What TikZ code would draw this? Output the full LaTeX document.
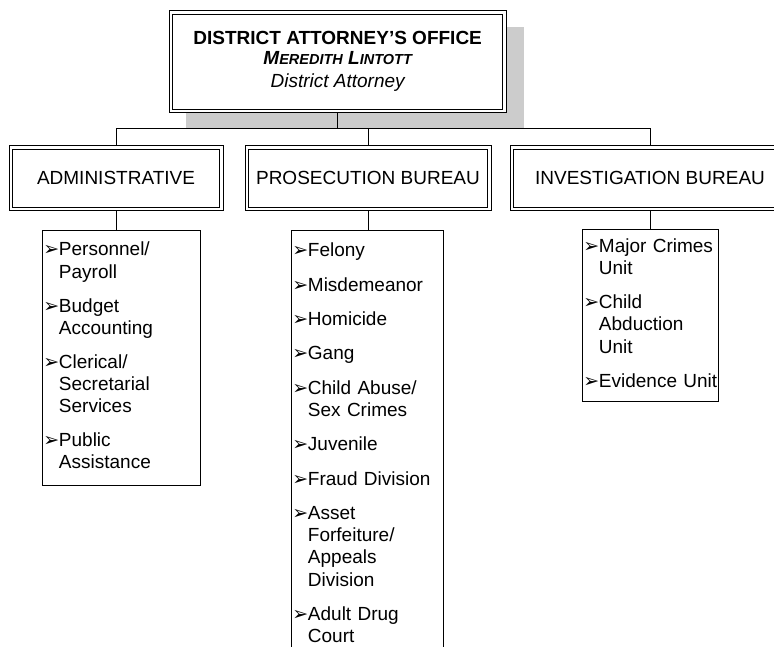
\documentclass[tikz,border=0pt]{standalone}
\usepackage{fontspec}
\setmainfont{Liberation Sans}
\newfontfamily\dingfont{DejaVu Sans}
\newcommand{\bul}{\makebox[15.5pt][l]{\dingfont\fontsize{19}{19}\selectfont ➢}}
\newcommand{\smc}[1]{{\fontsize{14.5}{16}\selectfont #1}}
\begin{document}
\begin{tikzpicture}[x=1pt,y=-1pt,
  hdr/.style={draw, line width=1pt, fill=white,
    inner sep=0pt, minimum height=65.5pt,
    font=\fontsize{19}{22.3}\selectfont},
  hdrin/.style={draw, line width=0.9pt},
  lst/.style={draw, line width=0.9pt, fill=white, anchor=north west,
    inner xsep=1pt, inner ysep=7pt, font=\fontsize{19}{22.3}\selectfont},
  conn/.style={line width=1pt},
  shade/.style={fill=black!20}]
\useasboundingbox (0,0) rectangle (774,647);
\clip (0,0) rectangle (774,647);
% shadow of the top box
\fill[shade] (186,27.5) rectangle (524,128.5);
% top box
\node[hdr, minimum width=336.7pt, minimum height=101.6pt, align=center,
  font=\fontsize{19}{21.5}\selectfont] (top) at (337.65,61.5)
  {{\bfseries DISTRICT ATTORNEY'S OFFICE}\\[-1pt]
   {\bfseries\itshape M\smc{EREDITH} L\smc{INTOTT}}\\[1.5pt]
   {\itshape District Attorney}};
\draw[hdrin] ([shift={(3.8,3.8)}]top.north west) rectangle ([shift={(-3.8,-3.8)}]top.south east);
% bureau headers
\node[hdr, minimum width=214pt] (adm) at (116,178.25) {ADMINISTRATIVE};
\node[hdr, minimum width=246pt] (pro) at (368,178.25) {PROSECUTION BUREAU};
\node[hdr, minimum width=280pt] (inv) at (650,178.25) {INVESTIGATION BUREAU};
\draw[hdrin] ([shift={(4,4)}]adm.north west) rectangle ([shift={(-4,-4)}]adm.south east);
\draw[hdrin] ([shift={(4,4)}]pro.north west) rectangle ([shift={(-4,-4)}]pro.south east);
\draw[hdrin] ([shift={(4,4)}]inv.north west) rectangle ([shift={(-4,-4)}]inv.south east);
% lists
\node[lst, text width=156pt, minimum height=255pt] (admlist) at (42,230)
{\begin{tabular}{@{}l@{}l@{}}
\bul & Personnel/\\ & Payroll\\[11.5pt]
\bul & Budget\\ & Accounting\\[11.5pt]
\bul & Clerical/\\ & Secretarial\\ & Services\\[11.5pt]
\bul & Public\\ & Assistance
\end{tabular}};
\node[lst, text width=150pt, minimum height=430pt] (prolist) at (291,230)
{\begin{tabular}{@{}l@{}l@{}}
\bul & Felony\\[12pt]
\bul & Misdemeanor\\[12pt]
\bul & Homicide\\[12pt]
\bul & Gang\\[12pt]
\bul & Child Abuse/\\ & Sex Crimes\\[12pt]
\bul & Juvenile\\[12pt]
\bul & Fraud Division\\[12pt]
\bul & Asset\\ & Forfeiture/\\ & Appeals\\ & Division\\[12pt]
\bul & Adult Drug\\ & Court
\end{tabular}\par\vspace{10pt}};
\node[lst, text width=134pt, minimum height=169pt] (invlist) at (582,229)
{\begin{tabular}{@{}l@{}l@{}}
\bul & Major Crimes\\ & Unit\\[12pt]
\bul & Child\\ & Abduction\\ & Unit\\[12pt]
\bul & Evidence Unit
\end{tabular}};
% connectors
\coordinate (bus) at (338,129);
\draw[conn] (top.south) -- (top.south |- bus);
\draw[conn] (adm.north) |- (inv.north |- bus) -- (inv.north);
\draw[conn] (pro.north) -- (pro.north |- bus);
\draw[conn] (adm.south) -- (adm.south |- admlist.north);
\draw[conn] (pro.south) -- (pro.south |- prolist.north);
\draw[conn] (inv.south) -- (inv.south |- invlist.north);
\end{tikzpicture}
\end{document}
